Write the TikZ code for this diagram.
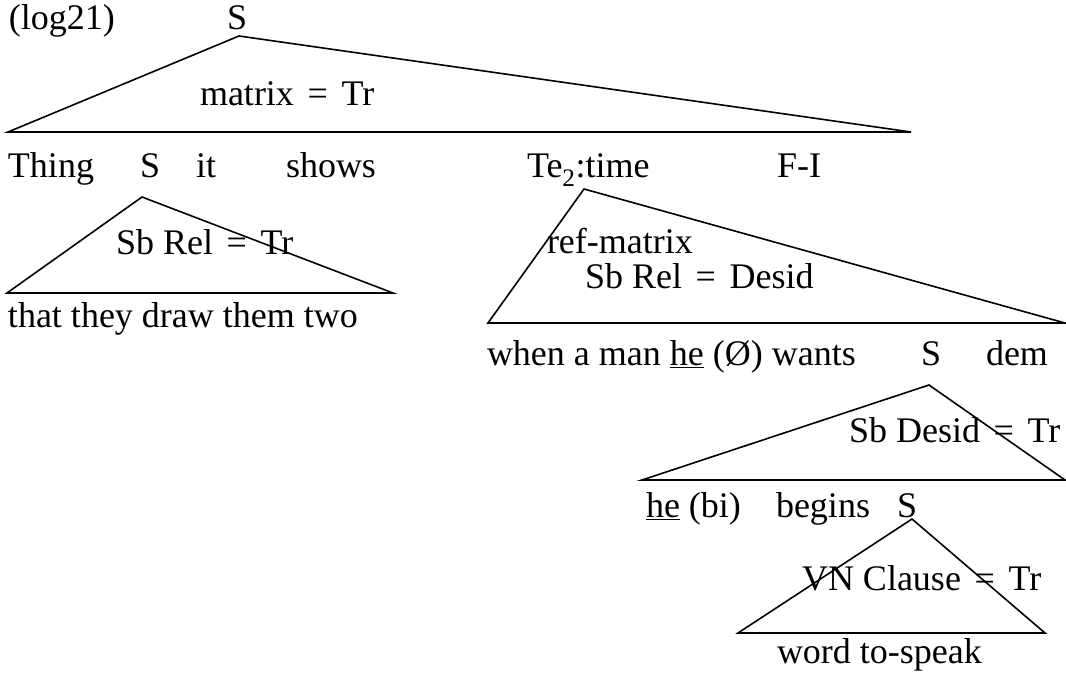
\documentclass[tikz,border=0pt]{standalone}
\usepackage{fontspec}
\setmainfont{Liberation Serif}
\tikzset{
  lbl/.style={anchor=base west, inner sep=0pt, outer sep=0pt, font=\fontsize{36}{42}\selectfont},
  tri/.style={draw=black, line width=1.6pt, line join=miter},
}
\newcommand{\eqg}{\hspace{0.38em}=\hspace{0.38em}}
\begin{document}
\begin{tikzpicture}[x=1pt,y=-1pt]
\useasboundingbox (0,0) rectangle (1066,674);
% row 0
\node[lbl] (log) at (9,30) {(log21)};
\node[lbl] (s0) at (227,30) {S};
\coordinate (t1a) at (239,36);
\coordinate (t1l) at (8,132);
\coordinate (t1r) at (911,132);
\draw[tri] (t1l) -- (t1a) -- (t1r) -- cycle;
\node[lbl] (m1) at (200,106) {matrix\eqg Tr};
% row 1
\node[lbl] (thing) at (8,178) {Thing};
\node[lbl] (s1) at (140,178) {S};
\node[lbl] (it) at (196,178) {it};
\node[lbl] (shows) at (286,178) {shows};
\node[lbl] (te) at (527,178) {Te\textsubscript{2}:time};
\node[lbl] (fi) at (777,178) {F-I};
% triangle 2
\coordinate (t2a) at (142,197);
\coordinate (t2l) at (7,293);
\coordinate (t2r) at (393,293);
\draw[tri] (t2l) -- (t2a) -- (t2r) -- cycle;
\node[lbl] (m2) at (116,254) {Sb Rel\eqg Tr};
\node[lbl] (that) at (8,327) {that they draw them two};
% triangle 3
\coordinate (t3a) at (584,189);
\coordinate (t3l) at (488,323);
\coordinate (t3r) at (1065,323);
\draw[tri] (t3l) -- (t3a) -- (t3r) -- cycle;
\node[lbl] (ref) at (547,253) {ref-matrix};
\node[lbl] (m3) at (585,288) {Sb Rel\eqg Desid};
\node[lbl] (when) at (487,365) {when a man \underline{he} (Ø) wants};
\node[lbl] (s3) at (921,365) {S};
\node[lbl] (dem) at (986,365) {dem};
% triangle 4
\coordinate (t4a) at (929,385);
\coordinate (t4l) at (642,480);
\coordinate (t4r) at (1065,480);
\draw[tri] (t4l) -- (t4a) -- (t4r) -- cycle;
\node[lbl] (m4) at (849,442) {Sb Desid\eqg Tr};
\node[lbl] (he) at (646,517) {\underline{he} (bi)};
\node[lbl] (begins) at (776,517) {begins};
\node[lbl] (s4) at (897,517) {S};
% triangle 5
\coordinate (t5a) at (912,519);
\coordinate (t5l) at (738,633);
\coordinate (t5r) at (1045,633);
\draw[tri] (t5l) -- (t5a) -- (t5r) -- cycle;
\node[lbl] (m5) at (802,590) {VN Clause\eqg Tr};
\node[lbl] (word) at (777,663) {word to-speak};
\end{tikzpicture}
\end{document}
